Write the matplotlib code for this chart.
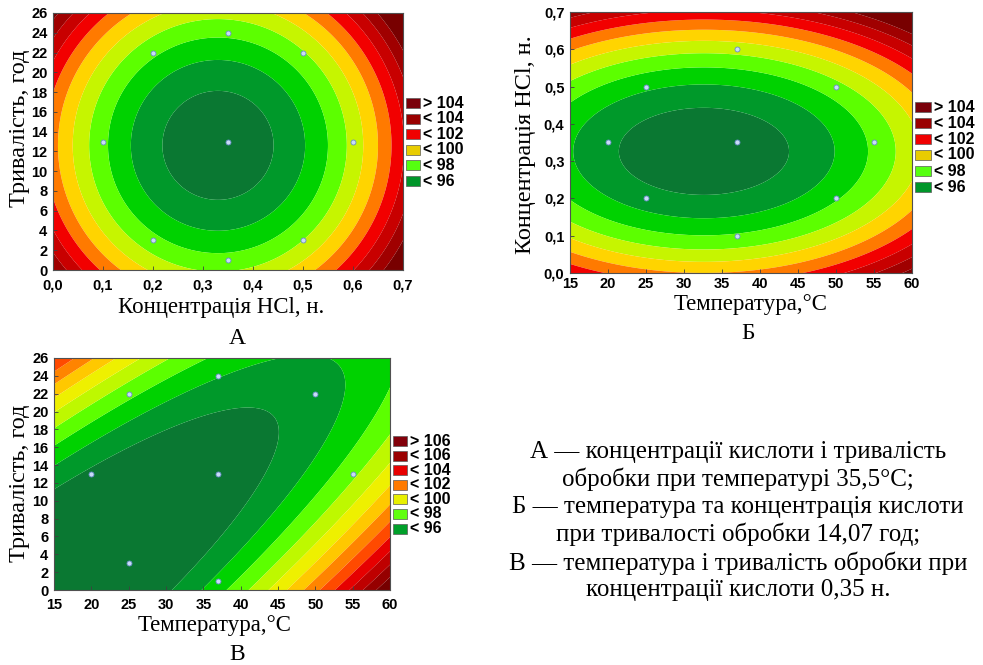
import numpy as np
import matplotlib
matplotlib.use("Agg")
import matplotlib.pyplot as plt
from matplotlib.patches import Rectangle
from matplotlib.ticker import FuncFormatter, MultipleLocator

# ---------------- data ----------------
# Panel A: contour crossings (HCl concentration, time, level)
a_conc = [0.444, 0.500, 0.548, 0.588, 0.624, 0.654, 0.680,
          0.218, 0.157, 0.110, 0.074, 0.037, 0.010,
          0.331, 0.331, 0.331, 0.331, 0.331, 0.331, 0.331]
a_time = [12.6, 12.6, 12.6, 12.6, 12.6, 12.6, 12.6,
          12.6, 12.6, 12.6, 12.6, 12.6, 12.6,
          18.3, 6.9, 21.15, 4.05, 23.6, 1.6, 25.6]
a_level = [95, 96, 97, 98, 99, 100, 101,
           95, 96, 97, 98, 99, 100,
           95, 95, 96, 96, 97, 97, 98]
a_pts_conc = [0.35, 0.2, 0.5, 0.35, 0.1, 0.6, 0.2, 0.5, 0.35]
a_pts_time = [13, 22, 22, 24, 13, 13, 3, 3, 1]

# Panel Б: contour crossings (temperature, HCl concentration, level)
b_temp = [21.3, 43.7, 50.1, 54.5, 57.8, 59.8,
          32.5, 32.5, 32.5, 32.5, 32.5, 32.5, 32.5, 32.5, 32.5, 32.5, 32.5, 32.5]
b_conc = [0.326, 0.326, 0.326, 0.326, 0.326, 0.326,
          0.443, 0.209, 0.504, 0.148, 0.550, 0.102, 0.590, 0.062, 0.624, 0.028, 0.654, 0.682]
b_level = [95, 95, 96, 97, 98, 99,
           95, 95, 96, 96, 97, 97, 98, 98, 99, 99, 100, 101]
b_pts_temp = [37, 25, 50, 20, 37, 55, 25, 50, 37]
b_pts_conc = [0.6, 0.5, 0.5, 0.35, 0.35, 0.35, 0.2, 0.2, 0.1]

# Panel В: contour crossings and read values (temperature, time, level)
v_temp = [15, 20, 25, 31.8, 38.5, 44.6, 43.5, 39, 34.5, 29.2,
          15, 44, 53.1, 57, 36.3,
          39.0, 41.7, 44.2, 46.4, 48.3, 50.0, 51.6, 53.2, 54.8, 56.4,
          15, 15, 15, 15, 15, 15, 15,
          60, 60, 60, 60, 60, 60, 60, 60, 60, 60, 60,
          15.8, 17.5, 19.5, 21.5, 23.5, 26, 29.5, 50, 40]
v_time = [10.8, 13.3, 16.2, 18.9, 18.6, 16.5, 12.3, 7.1, 2.6, 0,
          14.0, 24.5, 20.6, 23, 0,
          0, 0, 0, 0, 0, 0, 0, 0, 0, 0,
          16.5, 18.6, 20.4, 22.0, 23.4, 24.6, 25.6,
          26, 19.5, 16, 13.5, 11.5, 9.7, 8, 6.5, 5, 3.6, 2.2,
          26, 26, 26, 26, 26, 26, 26, 26, 26]
v_level = [95, 95, 95, 95, 95, 95, 95, 95, 95, 95,
           96, 96, 96, 96, 96,
           97, 98, 99, 100, 101, 102, 103, 104, 105, 106,
           97, 98, 99, 100, 101, 102, 103,
           96.7, 97, 98, 99, 100, 101, 102, 103, 104, 105, 106,
           103, 102, 101, 100, 99, 98, 97, 96.3, 96.4]
v_pts_temp = [37, 25, 50, 20, 37, 55, 25, 37]
v_pts_time = [24, 22, 22, 13, 13, 13, 3, 1]

# contour levels and band colours
ab_levels = [95, 96, 97, 98, 99, 100, 101, 102, 103, 104]
ab_colors = ['#0A7832', '#00992A', '#00D200', '#5CFF00', '#C6F500', '#FFD400',
             '#FF7A00', '#F20000', '#C80000', '#A00000', '#780000']
v_levels = [95, 96, 97, 98, 99, 100, 101, 102, 103, 104, 105, 106]
v_colors = ['#0A7832', '#00992A', '#00D200', '#5CFF00', '#BEF800', '#EEF000',
            '#FFC800', '#FF8400', '#FF4A00', '#E60000', '#BE0000', '#960000', '#760000']

ab_leg_labels = ['> 104', '< 104', '< 102', '< 100', '< 98', '< 96']
ab_leg_colors = ['#7A000A', '#9A0000', '#F00000', '#E8CC00', '#55FF10', '#00962A']
v_leg_labels = ['> 106', '< 106', '< 104', '< 102', '< 100', '< 98', '< 96']
v_leg_colors = ['#82000A', '#9A0000', '#E80000', '#FF7A00', '#E8F000', '#60FF10', '#00A02A']

caption_lines = ['А — концентрації кислоти і тривалість',
                 'обробки при температурі 35,5°C;',
                 'Б — температура та концентрація кислоти',
                 'при тривалості обробки 14,07 год;',
                 'В — температура і тривалість обробки при',
                 'концентрації кислоти 0,35 н.']

# ---------------- helpers ----------------
W, H = 983, 665


def quad_fit(x, y, z, xr, yr, cross=True, main_levels=()):
    x = (np.asarray(x, float) - xr[0]) / (xr[1] - xr[0])
    y = (np.asarray(y, float) - yr[0]) / (yr[1] - yr[0])
    z = np.asarray(z, float)
    cols = [np.ones_like(x), x, y, x * x, y * y]
    if cross:
        cols.append(x * y)
    A = np.column_stack(cols)
    w = np.where(np.isin(z, main_levels), 4.0, 1.0)
    coef, *_ = np.linalg.lstsq(A * w[:, None], z * w, rcond=None)

    def f(X, Y):
        Xn = (X - xr[0]) / (xr[1] - xr[0])
        Yn = (Y - yr[0]) / (yr[1] - yr[0])
        out = (coef[0] + coef[1] * Xn + coef[2] * Yn + coef[3] * Xn ** 2
               + coef[4] * Yn ** 2)
        if cross:
            out = out + coef[5] * Xn * Yn
        return out
    return f


def px_axes(l, r, t, b):
    return fig.add_axes([l / W, 1 - b / H, (r - l) / W, (b - t) / H])


xlabel_font = dict(family='Liberation Serif', size=16.5)
ylabel_font = dict(family='Liberation Serif', size=17.5)
comma = FuncFormatter(lambda v, p: f"{v:.1f}".replace('.', ','))
intfmt = FuncFormatter(lambda v, p: f"{v:.0f}")


def draw_panel(ax, xs, ys, zs, xr, yr, levels, colors, px, py, cross, xpad=6,
               main_levels=(95, 96)):
    f = quad_fit(xs, ys, zs, xr, yr, cross=cross, main_levels=main_levels)
    gx = np.linspace(xr[0], xr[1], 500)
    gy = np.linspace(yr[0], yr[1], 500)
    X, Y = np.meshgrid(gx, gy)
    Z = f(X, Y)
    lv = [min(Z.min(), levels[0]) - 1] + list(levels) + [max(Z.max(), levels[-1]) + 1]
    ax.contourf(X, Y, Z, levels=lv, colors=colors, antialiased=True)
    ax.plot(px, py, 'o', ms=3.6, mfc='#C8DCF8', mec='#6A8CC8', mew=0.6, ls='none')
    ax.set_xlim(*xr)
    ax.set_ylim(*yr)
    for s in ax.spines.values():
        s.set_color('#505050')
        s.set_linewidth(0.8)
    ax.tick_params(direction='in', length=3, width=0.6, color='#404040')
    ax.tick_params(axis='x', pad=xpad)
    ax.tick_params(axis='y', pad=4)


def style_ticks(ax):
    for lab in ax.get_xticklabels() + ax.get_yticklabels():
        lab.set_family('Liberation Sans')
        lab.set_weight('bold')
        lab.set_size(10.5)


def draw_legend(x0, y0, dy, labels, colors, sw=14, sh=10, tx=3):
    for i, (lab, c) in enumerate(zip(labels, colors)):
        yc = y0 + i * dy
        fig.add_artist(Rectangle((x0 / W, 1 - (yc + sh / 2) / H), sw / W, sh / H,
                                 transform=fig.transFigure, facecolor=c,
                                 edgecolor='#5A5A5A', linewidth=0.5))
        fig.text((x0 + sw + tx) / W, 1 - yc / H, lab, ha='left', va='center',
                 family='Liberation Sans', weight='bold', size=11.5)


fig = plt.figure(figsize=(W / 100, H / 100), dpi=100)
fig.patch.set_facecolor('white')

# ---- Panel A ----
axA = px_axes(53, 403, 13, 270)
draw_panel(axA, a_conc, a_time, a_level, (0.0, 0.7), (0, 26), ab_levels, ab_colors,
           a_pts_conc, a_pts_time, cross=False)
axA.xaxis.set_major_locator(MultipleLocator(0.1))
axA.xaxis.set_major_formatter(comma)
axA.yaxis.set_major_locator(MultipleLocator(2))
axA.yaxis.set_major_formatter(intfmt)
style_ticks(axA)
axA.set_xlabel('Концентрація HCl, н.', va='center', **xlabel_font)
axA.xaxis.set_label_coords(0.48, (270 - 307) / 257)
axA.set_ylabel('Тривалість, год', va='center', **ylabel_font)
axA.yaxis.set_label_coords((20 - 53) / 350, 0.55)
draw_legend(406, 103, 15.6, ab_leg_labels, ab_leg_colors)
fig.text(237 / W, 1 - 338 / H, 'А', ha='center', va='center',
         family='Liberation Serif', size=17)

# ---- Panel Б ----
axB = px_axes(570, 912, 12, 273)
draw_panel(axB, b_temp, b_conc, b_level, (15, 60), (0.0, 0.7), ab_levels, ab_colors,
           b_pts_temp, b_pts_conc, cross=False, xpad=3)
axB.xaxis.set_major_locator(MultipleLocator(5))
axB.xaxis.set_major_formatter(intfmt)
axB.yaxis.set_major_locator(MultipleLocator(0.1))
axB.yaxis.set_major_formatter(comma)
style_ticks(axB)
axB.set_xlabel('Температура,°C', va='center', **xlabel_font)
axB.xaxis.set_label_coords((751 - 570) / 342, (273 - 305) / 261)
axB.set_ylabel('Концентрація HCl, н.', va='center', **ylabel_font)
axB.yaxis.set_label_coords((526 - 570) / 342, 0.49)
draw_legend(915, 107, 16, ab_leg_labels, ab_leg_colors, sw=16)
fig.text(748 / W, 1 - 333 / H, 'Б', ha='center', va='center',
         family='Liberation Serif', size=17)

# ---- Panel В ----
axV = px_axes(54, 390, 358, 590)
draw_panel(axV, v_temp, v_time, v_level, (15, 60), (0, 26), v_levels, v_colors,
           v_pts_temp, v_pts_time, cross=True,
           main_levels=(95, 96, 96.3, 96.4, 96.7))
axV.xaxis.set_major_locator(MultipleLocator(5))
axV.xaxis.set_major_formatter(intfmt)
axV.yaxis.set_major_locator(MultipleLocator(2))
axV.yaxis.set_major_formatter(intfmt)
style_ticks(axV)
axV.set_xlabel('Температура,°C', va='center', **xlabel_font)
axV.xaxis.set_label_coords((215 - 54) / 336, (590 - 625) / 232)
axV.set_ylabel('Тривалість, год', va='center', **ylabel_font)
axV.yaxis.set_label_coords((20 - 54) / 336, 0.46)
draw_legend(393, 441, 14.6, v_leg_labels, v_leg_colors, sw=14)
fig.text(237 / W, 1 - 655 / H, 'В', ha='center', va='center',
         family='Liberation Serif', size=17)

# ---- caption ----
cap_y = [452, 479, 507, 534, 563, 590]
for line, y in zip(caption_lines, cap_y):
    fig.text(738 / W, 1 - y / H, line, ha='center', va='center',
             family='Liberation Serif', size=18)

fig.savefig('out.png', dpi=100, facecolor='white')
